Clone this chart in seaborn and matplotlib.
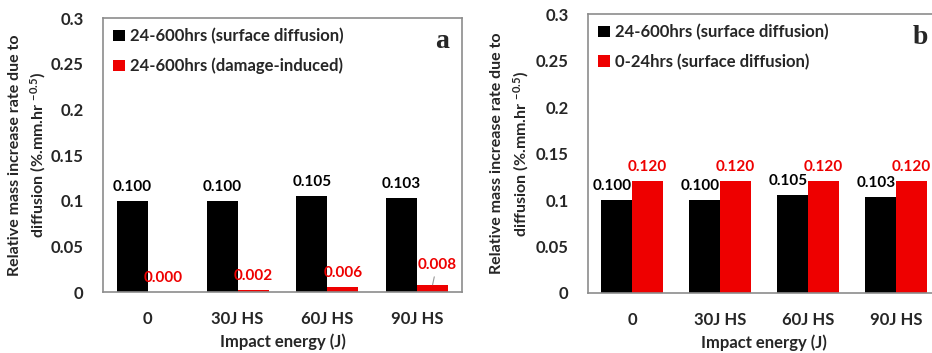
import numpy as np
import pandas as pd
import matplotlib
matplotlib.use("Agg")
import matplotlib.pyplot as plt
import seaborn as sns

# Data
categories = ["0", "30J HS", "60J HS", "90J HS"]
surface_24_600 = [0.100, 0.100, 0.105, 0.103]
damage_24_600 = [0.000, 0.002, 0.006, 0.008]
surface_0_24 = [0.120, 0.120, 0.120, 0.120]

name_surface = "24-600hrs (surface diffusion)"
name_damage = "24-600hrs (damage-induced)"
name_early = "0-24hrs (surface diffusion)"

y_ticks = [0, 0.05, 0.1, 0.15, 0.2, 0.25, 0.3]
y_tick_labels = ["0", "0.05", "0.1", "0.15", "0.2", "0.25", "0.3"]

sns.set_theme(style="white")
plt.rcParams["font.family"] = ["Lato", "DejaVu Sans"]
plt.rcParams["font.weight"] = "bold"
plt.rcParams["mathtext.default"] = "regular"

BLACK = "#000000"
RED = "#ee0000"
SPINE = "#8c8c8c"


def long_frame(series):
    rows = []
    for name, vals in series:
        for c, v in zip(categories, vals):
            rows.append({"Impact": c, "Series": name, "Value": v})
    return pd.DataFrame(rows)


def style_axes(ax, letter, letter_xy, ylabel_x):
    ax.set_ylim(0, 0.3)
    ax.set_yticks(y_ticks)
    ax.set_yticklabels(y_tick_labels, fontsize=12, fontweight="bold")
    ax.tick_params(axis="y", length=0, pad=14)
    ax.tick_params(axis="x", length=0, pad=14, labelsize=12)
    for t in ax.get_xticklabels():
        t.set_fontweight("bold")
    ax.set_xlabel("Impact energy (J)", fontsize=12, fontweight="bold", labelpad=4)
    ax.set_ylabel("Relative mass increase rate due to\ndiffusion (%.mm.hr $^{-0.5}$)",
                  fontsize=11.5, fontweight="bold", linespacing=1.45)
    ax.yaxis.set_label_coords(ylabel_x, 0.5)
    for s in ax.spines.values():
        s.set_visible(True)
        s.set_color(SPINE)
        s.set_linewidth(1.2)
    ax.grid(False)
    leg = ax.legend(loc="upper left", frameon=False, fontsize=12,
                    handlelength=0.7, handleheight=0.7, handletextpad=0.3,
                    labelspacing=0.8, borderaxespad=0.2, bbox_to_anchor=(0.0, 1.0))
    for t in leg.get_texts():
        t.set_fontweight("bold")
    ax.text(letter_xy[0], letter_xy[1], letter, transform=ax.transAxes,
            fontsize=20, fontweight="bold", family="Liberation Serif",
            ha="center", va="center")


fig = plt.figure(figsize=(9.32, 3.53), dpi=100)

# Panel a
ax_a = fig.add_axes([0.1105, 0.1728, 0.3852, 0.776])
df_a = long_frame([(name_surface, surface_24_600), (name_damage, damage_24_600)])
sns.barplot(data=df_a, x="Impact", y="Value", hue="Series", order=categories,
            hue_order=[name_surface, name_damage], palette=[BLACK, RED],
            width=0.69, linewidth=0, saturation=1, ax=ax_a, errorbar=None)
ax_a.set_xlim(-0.5, 3.5)
style_axes(ax_a, "a", (0.945, 0.915), -0.152)

for i, v in enumerate(surface_24_600):
    ax_a.annotate(f"{v:.3f}", (i - 0.1725, v), xytext=(0, 5), textcoords="offset points",
                  ha="center", va="bottom", fontsize=11, fontweight="bold", color=BLACK)
for i, v in enumerate(damage_24_600):
    if i == len(damage_24_600) - 1:
        ax_a.annotate(f"{v:.3f}", (i + 0.1725, v), xytext=(3, 9), textcoords="offset points",
                      ha="center", va="bottom", fontsize=11, fontweight="bold", color=RED,
                      arrowprops=dict(arrowstyle="-", color="#999999", lw=0.8,
                                      shrinkA=1, shrinkB=0))
    else:
        ax_a.annotate(f"{v:.3f}", (i + 0.1725, v), xytext=(0, 5), textcoords="offset points",
                      ha="center", va="bottom", fontsize=11, fontweight="bold", color=RED)

# Panel b
ax_b = fig.add_axes([0.6309, 0.170, 0.3777, 0.790])
df_b = long_frame([(name_surface, surface_24_600), (name_early, surface_0_24)])
sns.barplot(data=df_b, x="Impact", y="Value", hue="Series", order=categories,
            hue_order=[name_surface, name_early], palette=[BLACK, RED],
            width=0.70, linewidth=0, saturation=1, ax=ax_b, errorbar=None)
ax_b.set_xlim(-0.5, 3.5)
style_axes(ax_b, "b", (0.943, 0.915), -0.162)

for i, v in enumerate(surface_24_600):
    ax_b.annotate(f"{v:.3f}", (i - 0.22, v), xytext=(0, 5), textcoords="offset points",
                  ha="center", va="bottom", fontsize=11, fontweight="bold", color=BLACK)
for i, v in enumerate(surface_0_24):
    ax_b.annotate(f"{v:.3f}", (i + 0.175, v), xytext=(0, 5), textcoords="offset points",
                  ha="center", va="bottom", fontsize=11, fontweight="bold", color=RED)

fig.savefig("out.png", dpi=100)
